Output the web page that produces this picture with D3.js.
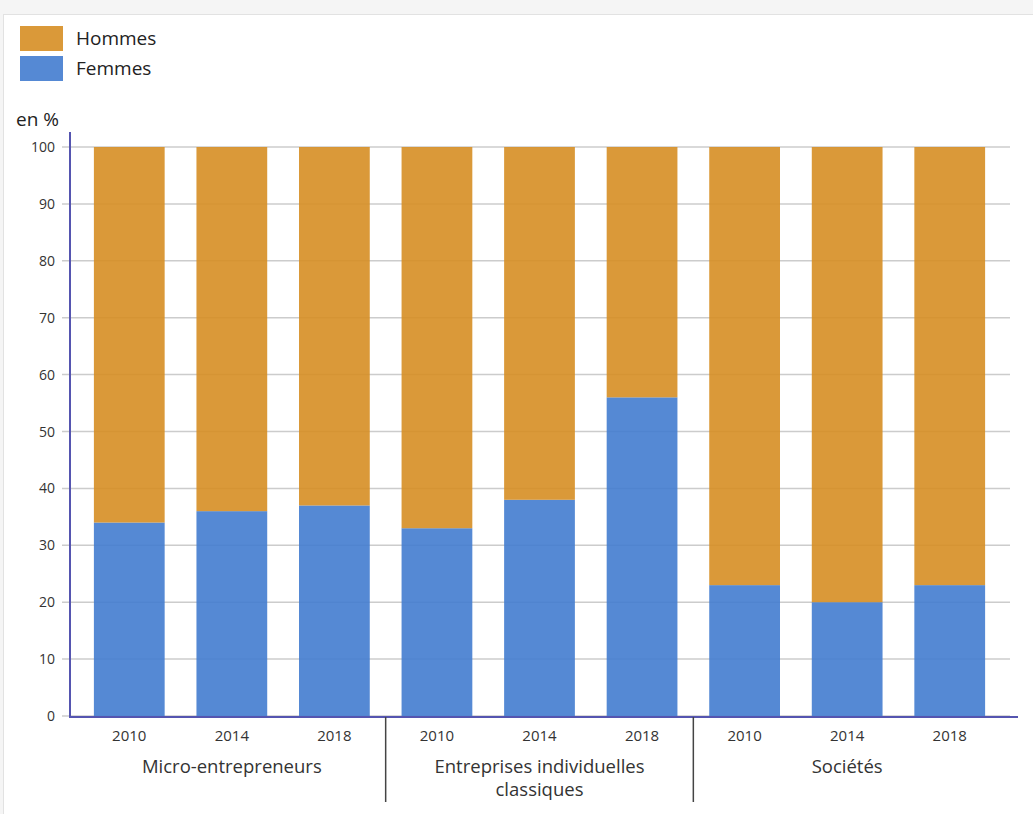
<!DOCTYPE html>
<html>
<head>
<meta charset="utf-8">
<script src="https://cdn.jsdelivr.net/npm/d3@7"></script>
<style>
  body { margin: 0; background: #f5f5f5; font-family: "Open Sans", sans-serif; }
  #panel { position: absolute; left: 3px; top: 14px; width: 1040px; height: 810px; background: #fff; border: 1px solid #e2e2e2; }
  svg { position: absolute; left: 0; top: 0; }
</style>
</head>
<body>
<div id="panel"></div>
<svg id="chart" width="1033" height="814"></svg>
<script>
var groups = ["Micro-entrepreneurs", "Entreprises individuelles classiques", "Sociétés"];
var groupLines = [["Micro-entrepreneurs"], ["Entreprises individuelles", "classiques"], ["Sociétés"]];
var years = ["2010", "2014", "2018"];
var femmes = [34, 36, 37, 33, 38, 56, 23, 20, 23];
var hommes = [66, 64, 63, 67, 62, 44, 77, 80, 77];
var series = ["Hommes", "Femmes"];
var colors = { Hommes: "#d68e24", Femmes: "#437ccf" };
var yTicks = [0, 10, 20, 30, 40, 50, 60, 70, 80, 90, 100];

var rows = [];
groups.forEach(function(g, gi) {
  years.forEach(function(yr, yi) {
    var i = gi * years.length + yi;
    rows.push({ key: g + "|" + yr, group: g, year: yr, Femmes: femmes[i], Hommes: hommes[i] });
  });
});

var svg = d3.select("#chart");
var axisLeft = 70, axisRight = 1018, plotTop = 147, plotBottom = 716;

var x = d3.scaleBand()
  .domain(rows.map(d => d.key))
  .range([78, 1001])
  .paddingInner(0.31)
  .paddingOuter(0.155);
var y = d3.scaleLinear().domain([0, 100]).range([plotBottom, plotTop]);

// grid
svg.append("g")
  .selectAll("line")
  .data(yTicks)
  .enter()
  .append("line")
  .attr("x1", 62).attr("x2", 1010)
  .attr("y1", d => y(d)).attr("y2", d => y(d))
  .attr("stroke", "#cccccc")
  .attr("stroke-width", 1.5);

svg.append("g")
  .selectAll("text")
  .data(yTicks)
  .enter()
  .append("text")
  .attr("x", 55)
  .attr("y", d => y(d) + 5)
  .attr("text-anchor", "end")
  .attr("font-size", 14)
  .attr("fill", "#333")
  .text(d => d);

// stacked bars
var stack = d3.stack().keys(["Femmes", "Hommes"]);
var layers = stack(rows);
svg.append("g")
  .selectAll("g")
  .data(layers)
  .enter()
  .append("g")
  .attr("fill", d => colors[d.key])
  .attr("fill-opacity", 0.9)
  .selectAll("rect")
  .data(d => d)
  .enter()
  .append("rect")
  .attr("x", d => x(d.data.key))
  .attr("width", x.bandwidth())
  .attr("y", d => y(d[1]))
  .attr("height", d => y(d[0]) - y(d[1]));

// axes lines
svg.append("line")
  .attr("x1", axisLeft).attr("x2", axisLeft)
  .attr("y1", 132).attr("y2", plotBottom + 1)
  .attr("stroke", "#5555b0").attr("stroke-width", 2);
svg.append("line")
  .attr("x1", axisLeft - 1).attr("x2", axisRight)
  .attr("y1", plotBottom + 1).attr("y2", plotBottom + 1)
  .attr("stroke", "#5555b0").attr("stroke-width", 2);

// year labels
svg.append("g")
  .selectAll("text")
  .data(rows)
  .enter()
  .append("text")
  .attr("x", d => x(d.key) + x.bandwidth() / 2)
  .attr("y", 741)
  .attr("text-anchor", "middle")
  .attr("font-size", 15)
  .attr("fill", "#333")
  .text(d => d.year);

// group labels and separators
var step = x.step();
groups.forEach(function(g, gi) {
  var first = x(g + "|" + years[0]);
  var last = x(g + "|" + years[years.length - 1]) + x.bandwidth();
  var cx = (first + last) / 2;
  var t = svg.append("text")
    .attr("text-anchor", "middle")
    .attr("font-size", 18.5)
    .attr("fill", "#333");
  groupLines[gi].forEach(function(line, li) {
    t.append("tspan").attr("x", cx).attr("y", 773 + li * 23).text(line);
  });
  if (gi > 0) {
    var sx = first - (step - x.bandwidth()) / 2;
    svg.append("line")
      .attr("x1", sx).attr("x2", sx)
      .attr("y1", plotBottom + 1).attr("y2", 802)
      .attr("stroke", "#444").attr("stroke-width", 1.5);
  }
});

// unit label
svg.append("text")
  .attr("x", 16).attr("y", 126)
  .attr("font-size", 19)
  .attr("fill", "#222")
  .text("en %");

// legend
var legend = svg.append("g")
  .selectAll("g")
  .data(series)
  .enter()
  .append("g")
  .attr("transform", (d, i) => `translate(20, ${26 + i * 30})`);
legend.append("rect")
  .attr("width", 43).attr("height", 25)
  .attr("fill", d => colors[d])
  .attr("fill-opacity", 0.9);
legend.append("text")
  .attr("x", 56).attr("y", 19)
  .attr("font-size", 19)
  .attr("fill", "#222")
  .text(d => d);
</script>
</body>
</html>
